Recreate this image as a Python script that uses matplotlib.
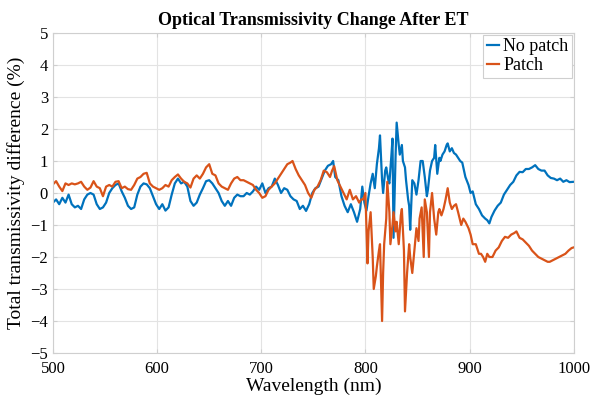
import matplotlib.pyplot as plt

# wavelength (nm) and transmissivity difference (%)
wl_nopatch = [500, 503, 506, 509, 512, 515, 518, 521, 524, 527, 530, 533, 536, 539, 542, 545, 548, 551, 554, 557,
              560, 563, 566, 569, 572, 575, 578, 581, 584, 587, 590, 593, 596, 599, 602, 605, 608, 611, 614, 617,
              620, 623, 626, 629, 632, 635, 638, 641, 644, 647, 650, 653, 656, 659, 662, 665, 668, 671, 674, 677,
              680, 683, 686, 689, 692, 695, 698, 701, 704, 707, 710, 713, 716, 719, 722, 725, 728, 731, 734, 737,
              740, 743, 746, 749, 752, 755, 758, 761, 764, 767, 769, 771, 774, 777, 780, 783, 786, 789, 792, 795,
              797, 799, 801, 803, 805, 807, 809, 811, 813, 814, 816, 817, 819, 820, 822, 823, 825, 826, 827, 829,
              830, 832, 833, 835, 836, 838, 839, 841, 842, 843, 845, 847, 849, 851, 853, 855, 857, 859, 860, 862,
              864, 866, 867, 869, 871, 872, 874, 876, 878, 879, 881, 883, 885, 887, 889, 891, 893, 896, 899, 901,
              903, 906, 909, 912, 915, 917, 919, 921, 924, 927, 930, 933, 936, 939, 942, 945, 948, 951, 954, 957,
              960, 963, 966, 969, 972, 975, 978, 981, 984, 987, 990, 993, 996, 1000]
nopatch = [-0.30, -0.20, -0.35, -0.15, -0.30, -0.05, -0.35, -0.45, -0.40, -0.50, -0.20, -0.05, 0.00, -0.05, -0.35,
           -0.50, -0.45, -0.30, 0.00, 0.15, 0.25, 0.30, 0.05, -0.15, -0.40, -0.50, -0.45, -0.05, 0.20, 0.30,
           0.27, 0.15, -0.10, -0.35, -0.50, -0.35, -0.55, -0.45, -0.05, 0.30, 0.45, 0.30, 0.35, 0.20, -0.25,
           -0.40, -0.30, -0.05, 0.15, 0.37, 0.40, 0.30, 0.15, 0.00, -0.25, -0.40, -0.25, -0.40, -0.15, -0.05,
           -0.10, -0.10, 0.00, -0.05, 0.05, 0.20, 0.10, 0.30, 0.00, 0.15, 0.20, 0.45, 0.25, 0.00, 0.15,
           0.10, -0.10, -0.20, -0.25, -0.50, -0.40, -0.56, -0.35, 0.00, 0.15, 0.20, 0.45, 0.70, 0.85, 0.90,
           1.00, 0.50, 0.40, -0.10, -0.40, -0.60, -0.35, -0.60, -0.90, -0.50, 0.20, -0.30, -0.55, -0.10, 0.30,
           0.60, 0.15, 0.90, 1.40, 1.80, 0.40, 0.00, 0.70, 0.80, 0.40, 0.30, 1.20, 1.70, -1.40, 1.20,
           2.20, 1.50, 1.20, 1.50, 1.00, 0.80, 0.40, -0.20, -0.40, -1.15, 0.40, 0.30, -0.05, 0.40, 1.00,
           1.00, 0.50, -0.10, 0.10, 0.70, 1.00, 1.10, 1.50, 0.60, 1.10, 1.00, 1.20, 1.30, 1.50, 1.55,
           1.30, 1.40, 1.25, 1.20, 1.10, 1.00, 0.95, 0.50, 0.25, 0.00, 0.05, -0.35, -0.50, -0.70, -0.80,
           -0.85, -0.95, -0.75, -0.55, -0.40, -0.30, -0.05, 0.10, 0.25, 0.35, 0.55, 0.66, 0.65, 0.75, 0.75,
           0.80, 0.87, 0.75, 0.70, 0.70, 0.55, 0.47, 0.45, 0.40, 0.45, 0.35, 0.40, 0.34, 0.35]

wl_patch = [500, 503, 506, 509, 512, 515, 518, 521, 524, 527, 530, 533, 536, 539, 542, 545, 548, 551, 554, 557,
            560, 563, 566, 569, 572, 575, 578, 581, 584, 587, 590, 593, 596, 599, 602, 605, 608, 611, 614, 617,
            620, 623, 626, 629, 632, 635, 638, 641, 644, 647, 650, 653, 656, 659, 662, 665, 668, 671, 674, 677,
            680, 683, 686, 689, 692, 695, 698, 701, 704, 707, 710, 713, 716, 719, 722, 725, 728, 730, 733, 736,
            739, 742, 745, 748, 751, 754, 757, 760, 763, 766, 768, 770, 773, 776, 779, 782, 785, 788, 791, 794,
            796, 798, 800, 802, 803, 805, 807, 808, 810, 811, 813, 814, 815, 816, 817, 818, 820, 821, 823, 824,
            826, 827, 829, 830, 832, 834, 835, 837, 838, 840, 842, 843, 845, 847, 849, 851, 852, 854, 856, 857,
            859, 861, 862, 864, 866, 868, 870, 871, 873, 875, 877, 879, 881, 883, 885, 887, 889, 892, 894, 896,
            899, 901, 903, 906, 909, 911, 913, 915, 917, 919, 922, 925, 928, 931, 934, 937, 940, 943, 945, 948,
            951, 954, 957, 960, 963, 966, 969, 972, 975, 977, 980, 983, 986, 989, 992, 995, 998, 1000]
patch = [0.27, 0.37, 0.20, 0.06, 0.30, 0.25, 0.30, 0.27, 0.30, 0.35, 0.20, 0.10, 0.17, 0.37, 0.20,
         0.15, -0.10, 0.20, 0.25, 0.20, 0.35, 0.37, 0.15, 0.20, 0.12, 0.10, 0.25, 0.45, 0.50, 0.60,
         0.63, 0.30, 0.20, 0.15, 0.10, 0.15, 0.25, 0.20, 0.40, 0.50, 0.58, 0.45, 0.35, 0.30, 0.17,
         0.45, 0.55, 0.45, 0.60, 0.80, 0.90, 0.60, 0.55, 0.30, 0.20, 0.15, 0.10, 0.30, 0.45, 0.50,
         0.40, 0.40, 0.35, 0.30, 0.25, 0.10, 0.00, -0.15, -0.10, 0.10, 0.20, 0.30, 0.45, 0.60, 0.75,
         0.90, 0.95, 1.00, 0.75, 0.55, 0.40, 0.25, 0.00, -0.15, 0.10, 0.20, 0.40, 0.70, 0.65, 0.50,
         0.70, 0.84, 0.40, 0.20, 0.00, -0.20, 0.10, -0.20, -0.10, -0.30, -0.20, -0.20, 0.00, -2.20, -1.20,
         -0.60, -2.00, -3.00, -2.60, -2.30, -1.80, -1.60, -2.80, -4.00, -2.50, -1.60, -0.80, 0.35, -0.60, -1.60,
         -1.00, -0.60, -1.20, -0.90, -1.60, -0.70, -0.50, -1.80, -3.70, -2.50, -1.60, -2.00, -2.50, -1.80, -1.10,
         -1.50, -0.80, -0.45, -2.00, -0.20, -0.60, -2.00, -0.60, 0.00, -0.80, -1.30, -0.60, -0.50, -0.70, -0.50,
         -0.20, 0.15, -0.30, -0.50, -0.40, -0.35, -0.60, -1.00, -0.80, -0.90, -1.10, -1.30, -1.60, -1.60, -1.90,
         -1.90, -2.00, -2.15, -1.90, -2.00, -2.00, -1.80, -1.70, -1.50, -1.37, -1.40, -1.30, -1.25, -1.20, -1.40,
         -1.45, -1.55, -1.65, -1.80, -1.90, -2.00, -2.05, -2.10, -2.15, -2.15, -2.10, -2.05, -2.00, -1.95, -1.90,
         -1.80, -1.72, -1.70]

plt.rcParams['font.family'] = ['Liberation Serif', 'DejaVu Serif']

fig = plt.figure(figsize=(6.02, 4.00), dpi=100)
ax = fig.add_axes([0.088, 0.1175, 0.865, 0.80])

ax.plot(wl_nopatch, nopatch, color='#0072BD', lw=1.6, label='No patch')
ax.plot(wl_patch, patch, color='#D95319', lw=1.6, label='Patch')

ax.set_xlim(500, 1000)
ax.set_ylim(-5, 5)
ax.set_xticks(range(500, 1001, 100))
ax.set_yticks(range(-5, 6))
ax.grid(True, color='#e3e3e3', lw=0.8)
ax.set_axisbelow(True)
for s in ax.spines.values():
    s.set_color('#cfcfcf')
ax.tick_params(direction='in', length=3, color='#cfcfcf', labelsize=12, top=True, right=True)
ax.tick_params(axis='x', pad=6)

ax.set_xlabel('Wavelength (nm)', fontsize=14, labelpad=0)
ax.set_ylabel('Total transmissivity difference (%)', fontsize=14, labelpad=4)
ax.set_title('Optical Transmissivity Change After ET', fontsize=13, fontweight='bold', pad=6)

leg = ax.legend(loc='upper right', fontsize=13, handlelength=0.7, handletextpad=0.2,
                borderpad=0.2, labelspacing=0.1, borderaxespad=0.1, fancybox=False, framealpha=1)
leg.get_frame().set_edgecolor('#cfcfcf')
leg.get_frame().set_linewidth(0.8)

fig.savefig('out.png', dpi=100)
